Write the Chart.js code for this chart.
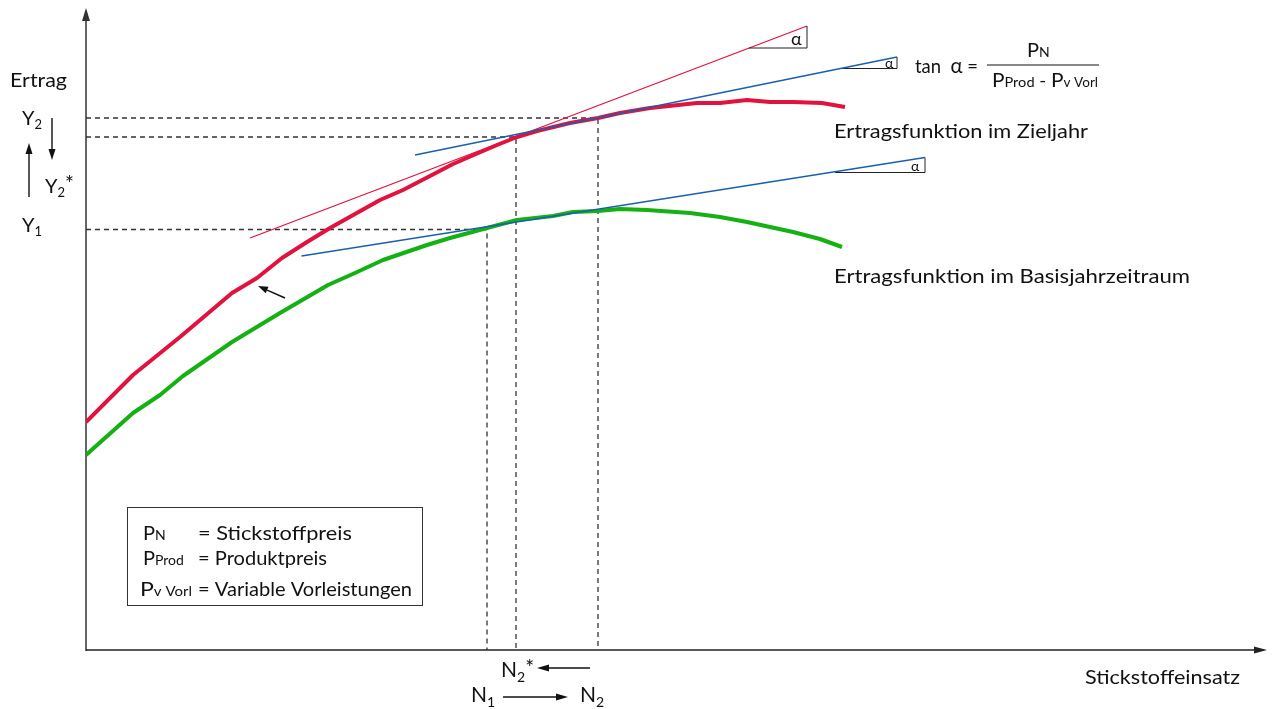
<!DOCTYPE html>
<html><head><meta charset="utf-8">
<script src="https://cdn.jsdelivr.net/npm/chart.js@4/dist/chart.umd.min.js"></script>
<style>html,body{margin:0;padding:0;background:#fff;overflow:hidden}#wrap{width:1272px;height:709px;position:relative}</style>
</head><body><div id="wrap"><canvas id="c" width="1272" height="709"></canvas></div>
<script>
// ---- data (arbitrary units: Stickstoffeinsatz vs. Ertrag) ----
const zielX  = [0,4.7,9.4,14.6,17.1,19.6,22.1,24.4,29.4,31.7,34.4,36.7,39.0,41.1,43.1,45.1,48.4,51.2,53.4,56.4,61.1,63.4,66.1,68.4,70.7,73.6,75.9];
const zielY  = [22.8,27.5,31.3,35.7,37.2,39.2,40.8,42.2,45.0,46.0,47.4,48.6,49.6,50.5,51.3,51.9,52.7,53.2,53.7,54.2,54.7,54.7,55.0,54.8,54.8,54.7,54.3];
const basisX = [0,4.7,7.4,9.7,14.6,19.4,24.2,26.9,29.7,34.1,36.4,40.1,43.1,46.7,48.7,51.2,53.4,56.1,60.4,63.4,66.1,70.7,73.4,75.6];
const basisY = [19.5,23.7,25.5,27.4,30.8,33.7,36.5,37.7,39.0,40.5,41.2,42.2,43.0,43.4,43.8,43.9,44.1,44.0,43.7,43.3,42.8,41.8,41.1,40.3];
// tangents (start/end)
const tanRedX = [16.4,72.1], tanRedY = [41.2,62.4];
const tanBlue2X = [32.9,81.1], tanBlue2Y = [49.5,59.3];
const tanBlue1X = [21.55,83.9], tanBlue1Y = [39.4,49.25];
// slope triangles
const triRedX = [66.3,72.1,72.1], triRedY = [60.2,60.2,62.4];
const triBlue2X = [75.4,81.1,81.1], triBlue2Y = [58.15,58.15,59.3];
const triBlue1X = [74.9,83.9,83.9], triBlue1Y = [47.75,47.75,49.25];
// optimum points: N1, N2*, N2 and yields Y1, Y2*, Y2
const N1 = 40.1, N2s = 43.0, N2 = 51.2;
const Y1 = 42.05, Y2s = 51.3, Y2 = 53.2;
const X_MAX = 118.1, Y_MAX = 64.2;

const pts = (xs, ys) => xs.map((x, i) => ({x, y: ys[i]}));
const RED = '#E2123F', GREEN = '#14B014', BLUE = '#1A5FAE', DASH = '#333333';

const ds = [
  {data: pts(tanBlue2X, tanBlue2Y), borderColor: BLUE, borderWidth: 1.3, order: 1},
  {data: pts(tanBlue1X, tanBlue1Y), borderColor: BLUE, borderWidth: 1.3, order: 1},
  {data: pts(tanRedX, tanRedY), borderColor: RED, borderWidth: 1.3, order: 2},
  {data: pts(triRedX, triRedY), borderColor: '#222', borderWidth: 1, order: 1},
  {data: pts(triBlue2X, triBlue2Y), borderColor: '#222', borderWidth: 1, order: 1},
  {data: pts(triBlue1X, triBlue1Y), borderColor: '#222', borderWidth: 1, order: 1},
  {data: pts(zielX, zielY), borderColor: RED, borderWidth: 4, order: 3},
  {data: pts(basisX, basisY), borderColor: GREEN, borderWidth: 4, order: 3},
  {data: [{x:0,y:Y2},{x:N2,y:Y2},{x:N2,y:0}], borderColor: DASH, borderWidth: 1.3, borderDash: [5,4], order: 4},
  {data: [{x:0,y:Y2s},{x:N2s,y:Y2s},{x:N2s,y:0}], borderColor: DASH, borderWidth: 1.3, borderDash: [5,4], order: 4},
  {data: [{x:0,y:Y1},{x:N1,y:Y1},{x:N1,y:0}], borderColor: DASH, borderWidth: 1.3, borderDash: [5,4], order: 4}
].map(d => Object.assign({pointRadius: 0, tension: 0, fill: false, borderCapStyle: 'butt', borderJoinStyle: 'round'}, d));

const FONT = 'Lato, "Open Sans", sans-serif';
function arrow(ctx, x1, y1, x2, y2, hl, hw, color, lw) {
  const a = Math.atan2(y2 - y1, x2 - x1);
  const bx = x2 - hl * Math.cos(a), by = y2 - hl * Math.sin(a);
  ctx.save(); ctx.strokeStyle = color; ctx.fillStyle = color; ctx.lineWidth = lw;
  ctx.beginPath(); ctx.moveTo(x1, y1); ctx.lineTo(bx, by); ctx.stroke();
  ctx.beginPath(); ctx.moveTo(x2, y2);
  ctx.lineTo(bx + hw / 2 * Math.sin(a), by - hw / 2 * Math.cos(a));
  ctx.lineTo(bx - hw / 2 * Math.sin(a), by + hw / 2 * Math.cos(a));
  ctx.closePath(); ctx.fill(); ctx.restore();
}
// draw a run of text pieces [text, size, dy]; optional target width stretches horizontally
function run(ctx, x, y, pieces, targetW) {
  let w = 0;
  for (const p of pieces) { ctx.font = p[1] + 'px ' + FONT; w += ctx.measureText(p[0]).width; }
  const sx = targetW ? targetW / w : 1;
  ctx.save(); ctx.translate(x, y); ctx.scale(sx, 1);
  let cx = 0;
  for (const p of pieces) {
    ctx.font = p[1] + 'px ' + FONT;
    ctx.fillText(p[0], cx, p[2] || 0);
    cx += ctx.measureText(p[0]).width;
  }
  ctx.restore();
}

const decor = {
  id: 'decor',
  beforeDatasetsDraw(chart) {
    const ctx = chart.ctx, xs = chart.scales.x, ys = chart.scales.y;
    const x0 = xs.getPixelForValue(0), y0 = ys.getPixelForValue(0);
    const xt = xs.getPixelForValue(X_MAX), yt = ys.getPixelForValue(Y_MAX);
    arrow(ctx, x0, y0 + 1, x0, yt, 13, 8, '#333', 1.5);
    arrow(ctx, x0, y0, xt, y0, 13, 7, '#222', 1.5);
  },
  afterDraw(chart) {
    const ctx = chart.ctx;
    ctx.save();
    ctx.fillStyle = '#111'; ctx.textBaseline = 'alphabetic';
    run(ctx, 10, 87, [['Ertrag', 20]], 57);
    run(ctx, 22, 125, [['Y', 20], ['2', 13, 4]]);
    run(ctx, 45, 193, [['Y', 20], ['2', 13, 4], ['*', 21, -2]]);
    run(ctx, 22, 232, [['Y', 20], ['1', 13, 4]]);
    arrow(ctx, 29, 197, 29, 143, 11, 7, '#111', 1.4);
    arrow(ctx, 52, 118, 52, 160, 11, 7, '#111', 1.4);

    run(ctx, 834, 138, [['Ertragsfunktion im Zieljahr', 20]], 254);
    run(ctx, 834, 283, [['Ertragsfunktion im Basisjahrzeitraum', 20]], 356);
    run(ctx, 1085, 684, [['Stickstoffeinsatz', 20]], 155);

    // alpha labels in triangles
    run(ctx, 791, 45, [['α', 18]]);
    run(ctx, 885, 68, [['α', 14]]);
    run(ctx, 911, 171, [['α', 14]]);

    // tan formula
    run(ctx, 915, 73, [['tan  ', 20], ['α', 22], [' =', 20]], 63);
    ctx.strokeStyle = '#111'; ctx.lineWidth = 1.2;
    ctx.beginPath(); ctx.moveTo(987, 65); ctx.lineTo(1099, 65); ctx.stroke();
    run(ctx, 1027, 57, [['P', 20], ['N', 14]]);
    run(ctx, 992, 87, [['P', 20], ['Prod', 14], [' - ', 18], ['P', 20], ['v Vorl', 13]], 106);

    // legend box
    ctx.strokeStyle = '#333'; ctx.lineWidth = 1;
    ctx.strokeRect(127.5, 507.5, 295, 98);
    run(ctx, 143, 540, [['P', 20], ['N', 14]]);
    run(ctx, 143, 565, [['P', 20], ['Prod', 14]]);
    run(ctx, 140, 596, [['P', 20], ['v Vorl', 13]], 52);
    run(ctx, 198, 540, [['= Stickstoffpreis', 19]], 154);
    run(ctx, 198, 565, [['= Produktpreis', 19]], 129);
    run(ctx, 198, 596, [['= Variable Vorleistungen', 19]], 214);

    // N labels
    run(ctx, 501, 677, [['N', 21], ['2', 14, 5], ['*', 21, -2]]);
    arrow(ctx, 590, 668, 537, 668, 12, 7, '#111', 1.4);
    run(ctx, 471, 702, [['N', 21], ['1', 14, 5]]);
    arrow(ctx, 503, 697, 568, 697, 12, 7, '#111', 1.4);
    run(ctx, 580, 702, [['N', 21], ['2', 14, 5]]);

    // small arrow towards the curve
    arrow(ctx, 285, 298, 258, 286, 10, 7, '#111', 1.5);
    ctx.restore();
  }
};

new Chart(document.getElementById('c'), {
  type: 'line',
  data: {datasets: ds},
  options: {
    responsive: false, animation: false, devicePixelRatio: 1,
    layout: {padding: {left: 86, right: 5, top: 8, bottom: 59}},
    plugins: {legend: {display: false}, tooltip: {enabled: false}},
    elements: {line: {capBezierPoints: false}},
    scales: {
      x: {type: 'linear', display: false, min: 0, max: X_MAX},
      y: {type: 'linear', display: false, min: 0, max: Y_MAX}
    }
  },
  plugins: [decor]
});
</script>
</body></html>
